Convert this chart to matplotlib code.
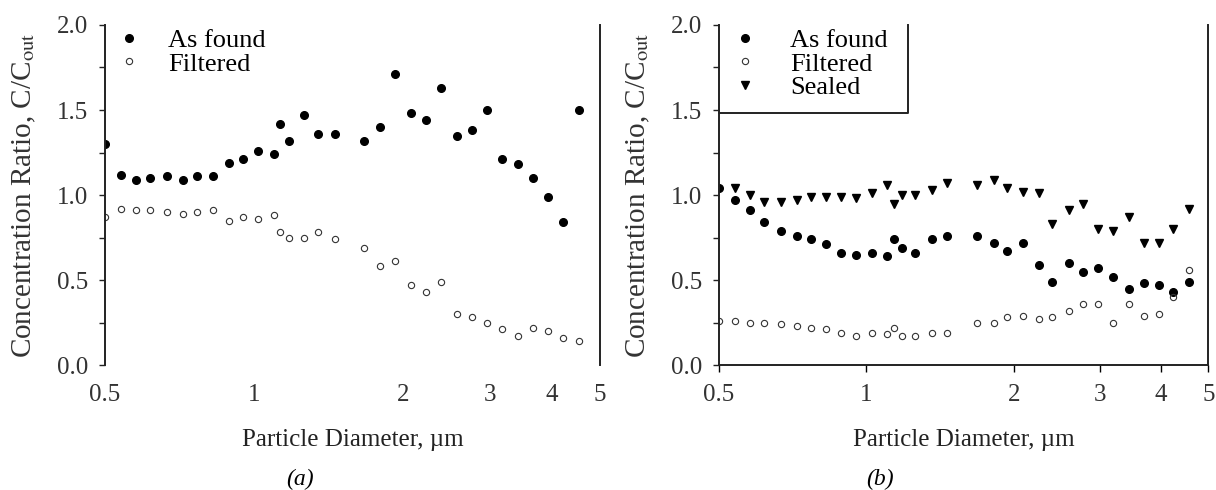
import numpy as np
import matplotlib
matplotlib.use("Agg")
import matplotlib.pyplot as plt
from matplotlib.ticker import FixedLocator, NullFormatter, MultipleLocator

plt.rcParams['font.family'] = ['Liberation Serif', 'DejaVu Serif']
plt.rcParams['font.size'] = 18
plt.rcParams['mathtext.fontset'] = 'stix'

# ---- panel (a) data ----
a_diam = [0.50, 0.539, 0.578, 0.616, 0.667, 0.719, 0.767, 0.826, 0.89, 0.95,
          1.02, 1.10, 1.13, 1.18, 1.26, 1.35, 1.46, 1.67, 1.80, 1.93,
          2.08, 2.23, 2.39, 2.57, 2.76, 2.96, 3.17, 3.41, 3.66, 3.93,
          4.21, 4.54]
a_found = [1.30, 1.12, 1.09, 1.10, 1.11, 1.09, 1.11, 1.11, 1.19, 1.21,
           1.26, 1.24, 1.42, 1.32, 1.47, 1.36, 1.36, 1.32, 1.40, 1.71,
           1.48, 1.44, 1.63, 1.35, 1.38, 1.50, 1.21, 1.18, 1.10, 0.99,
           0.84, 1.50]
a_filtered = [0.87, 0.92, 0.91, 0.91, 0.90, 0.89, 0.90, 0.91, 0.85, 0.87,
              0.86, 0.88, 0.78, 0.75, 0.75, 0.78, 0.74, 0.69, 0.58, 0.61,
              0.47, 0.43, 0.49, 0.30, 0.28, 0.25, 0.21, 0.17, 0.22, 0.20,
              0.16, 0.14]

# ---- panel (b) data ----
b_diam = [0.50, 0.539, 0.578, 0.619, 0.668, 0.72, 0.769, 0.828, 0.889, 0.953,
          1.026, 1.10, 1.14, 1.18, 1.26, 1.36, 1.46, 1.68, 1.82, 1.94,
          2.09, 2.25, 2.40, 2.59, 2.77, 2.98, 3.19, 3.44, 3.69, 3.96,
          4.24, 4.57]
b_found = [1.04, 0.97, 0.91, 0.84, 0.79, 0.76, 0.74, 0.71, 0.66, 0.65,
           0.66, 0.64, 0.74, 0.69, 0.66, 0.74, 0.76, 0.76, 0.72, 0.67,
           0.72, 0.59, 0.49, 0.60, 0.55, 0.57, 0.52, 0.45, 0.48, 0.47,
           0.43, 0.49]
b_filtered = [0.26, 0.26, 0.25, 0.25, 0.24, 0.23, 0.22, 0.21, 0.19, 0.17,
              0.19, 0.18, 0.22, 0.17, 0.17, 0.19, 0.19, 0.25, 0.25, 0.28,
              0.29, 0.27, 0.28, 0.32, 0.36, 0.36, 0.25, 0.36, 0.29, 0.30,
              0.40, 0.56]
b_sealed_diam = b_diam[1:]
b_sealed = [1.04, 1.00, 0.96, 0.96, 0.97, 0.99, 0.99, 0.99, 0.98,
            1.01, 1.06, 0.95, 1.00, 1.00, 1.03, 1.07, 1.06, 1.09, 1.04,
            1.02, 1.01, 0.83, 0.91, 0.95, 0.80, 0.79, 0.87, 0.72, 0.72,
            0.80, 0.92]

xticks = [0.5, 1, 2, 3, 4, 5]
xtick_labels = ['0.5', '1', '2', '3', '4', '5']

fig = plt.figure(figsize=(12.16, 4.9), dpi=100)
ax_a = fig.add_axes([0.0863, 0.255, 0.407, 0.694])
ax_b = fig.add_axes([0.5913, 0.255, 0.4025, 0.694])

found_kw = dict(linestyle='none', marker='o', markersize=5.5, color='black')
filt_kw = dict(linestyle='none', marker='o', markersize=4.5, markerfacecolor='none',
               markeredgecolor='#333333', markeredgewidth=0.8)
seal_kw = dict(linestyle='none', marker='v', markersize=6, color='black')

ax_a.plot(a_diam, a_found, label='As found', **found_kw)
ax_a.plot(a_diam, a_filtered, label='Filtered', **filt_kw)

ax_b.plot(b_diam, b_found, label='As found', **found_kw)
ax_b.plot(b_diam, b_filtered, label='Filtered', **filt_kw)
ax_b.plot(b_sealed_diam, b_sealed, label='Sealed', **seal_kw)

for ax in (ax_a, ax_b):
    ax.set_xscale('log')
    ax.set_xlim(0.5, 5)
    ax.set_ylim(0, 2.0)
    ax.xaxis.set_major_locator(FixedLocator(xticks))
    ax.set_xticklabels(xtick_labels)
    ax.xaxis.set_minor_formatter(NullFormatter())
    ax.xaxis.set_minor_locator(FixedLocator([]))
    ax.yaxis.set_major_locator(MultipleLocator(0.5))
    ax.yaxis.set_minor_locator(MultipleLocator(0.25))
    ax.yaxis.set_major_formatter(plt.FormatStrFormatter('%.1f'))
    ax.tick_params(axis='y', which='both', direction='out', length=4, width=1,
                   colors='#222222', labelcolor='#333333', pad=8)
    ax.spines['top'].set_visible(False)
    for s in ('left', 'right', 'bottom'):
        ax.spines[s].set_linewidth(1.4)
        ax.spines[s].set_color('#222222')
    ax.set_xlabel('Particle Diameter, µm', color='#222222', labelpad=16,
                  fontsize=18)
    ax.set_ylabel('Concentration Ratio, C/C$_{\\mathrm{out}}$', color='#333333',
                  labelpad=14, fontsize=21)

ax_a.spines['bottom'].set_visible(False)
ax_a.tick_params(axis='x', length=0, pad=14, labelcolor='#333333')
ax_b.tick_params(axis='x', direction='out', length=5, width=1, pad=9,
                 labelcolor='#333333')

ax_a.legend(loc='upper left', frameon=False, handletextpad=0.9,
            borderaxespad=0.0, labelspacing=0.0, handlelength=1.2,
            fontsize=19, bbox_to_anchor=(-0.005, 1.02))
leg_b = ax_b.legend(loc='upper left', frameon=False, handletextpad=1.1,
                    borderaxespad=0.0, labelspacing=0.0, handlelength=1.2,
                    fontsize=19, bbox_to_anchor=(0.0, 1.02))

# open-topped box around legend (b)
fig.canvas.draw()
bb = leg_b.get_window_extent().transformed(ax_b.transAxes.inverted())
ax_b.plot([bb.x1 + 0.02, bb.x1 + 0.02, 0], [1.0, 0.74, 0.74], color='#222222',
          linewidth=1.4, transform=ax_b.transAxes, clip_on=False)

fig.text(0.247, 0.01, '(a)', style='italic', fontsize=17, ha='center')
fig.text(0.724, 0.01, '(b)', style='italic', fontsize=17, ha='center')

fig.savefig('out.png', dpi=100, facecolor='white')
